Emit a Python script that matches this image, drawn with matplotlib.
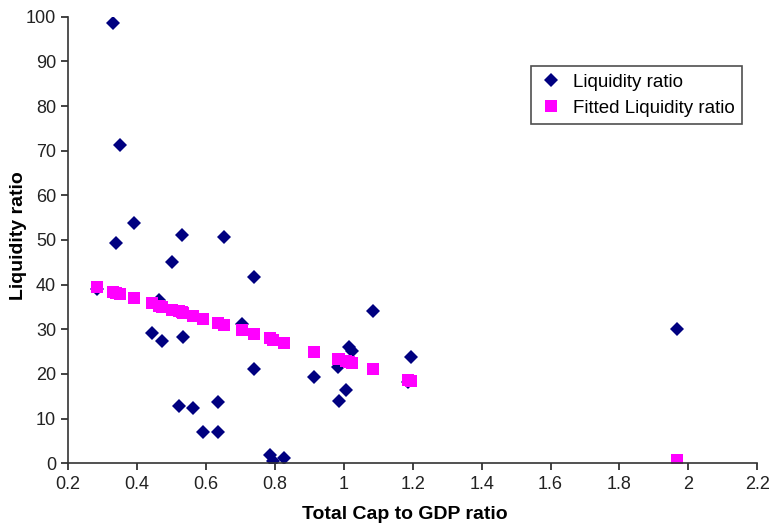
import matplotlib
matplotlib.use("Agg")
import matplotlib.pyplot as plt

plt.rcParams['font.family'] = ['Liberation Sans', 'DejaVu Sans']

# Total cap to GDP ratio (shared by both series)
cap_gdp = [0.284, 0.331, 0.340, 0.351, 0.392, 0.445, 0.465, 0.474, 0.503, 0.523,
           0.532, 0.535, 0.564, 0.593, 0.634, 0.634, 0.654, 0.704, 0.741, 0.741,
           0.785, 0.794, 0.826, 0.913, 0.983, 0.986, 1.006, 1.015, 1.024, 1.085,
           1.187, 1.196, 1.967]
# observed liquidity ratio
liquidity = [39.0, 98.7, 49.3, 71.3, 53.8, 29.1, 36.5, 27.4, 45.1, 12.8,
             51.1, 28.2, 12.3, 7.0, 13.7, 7.0, 50.7, 31.2, 41.7, 21.1,
             1.8, 0.5, 1.1, 19.2, 21.5, 13.9, 16.4, 26.0, 25.1, 34.1,
             18.2, 23.8, 30.1]
# fitted liquidity ratio
fitted = [39.5, 38.4, 38.2, 37.9, 37.0, 35.8, 35.3, 35.1, 34.4, 34.0,
          33.8, 33.7, 33.0, 32.4, 31.4, 31.4, 31.0, 29.8, 29.0, 29.0,
          28.0, 27.7, 27.0, 25.0, 23.4, 23.3, 22.9, 22.7, 22.5, 21.0,
          18.7, 18.5, 0.8]

fig = plt.figure(figsize=(7.72, 5.24), dpi=100)
ax = fig.add_axes([0.088, 0.116, 0.893, 0.852])

ax.plot(cap_gdp, liquidity, linestyle='none', marker='D', markersize=7,
        color='#000080', markeredgewidth=0, label='Liquidity ratio')
ax.plot(cap_gdp, fitted, linestyle='none', marker='s', markersize=8,
        color='#ff00ff', markeredgewidth=0, label='Fitted Liquidity ratio')

ax.set_xlim(0.2, 2.2)
ax.set_ylim(0, 100)
ax.set_xticks([0.2, 0.4, 0.6, 0.8, 1.0, 1.2, 1.4, 1.6, 1.8, 2.0, 2.2])
ax.set_xticklabels(['0.2', '0.4', '0.6', '0.8', '1', '1.2', '1.4', '1.6', '1.8', '2', '2.2'])
ax.set_yticks(range(0, 101, 10))

for s in ['top', 'right']:
    ax.spines[s].set_visible(False)
for s in ['left', 'bottom']:
    ax.spines[s].set_linewidth(1.2)
    ax.spines[s].set_color('#333333')
ax.tick_params(direction='out', length=5, width=1.2, labelsize=13, colors='#222222')
ax.tick_params(axis='x', pad=4)

ax.set_xlabel('Total Cap to GDP ratio', fontsize=14, fontweight='bold')
ax.set_ylabel('Liquidity ratio', fontsize=14, fontweight='bold')
ax.yaxis.set_label_coords(-0.06, 0.51)
ax.xaxis.set_label_coords(0.488, -0.095)

leg = ax.legend(loc='upper left', bbox_to_anchor=(0.688, 0.874),
                bbox_transform=fig.transFigure, fontsize=13.5, frameon=True,
                fancybox=False, handletextpad=0.5, handlelength=1.3,
                borderpad=0.42, labelspacing=0.45, borderaxespad=0)
leg.get_frame().set_edgecolor('#222222')
leg.get_frame().set_linewidth(1.2)

fig.savefig('out.png', dpi=100)
